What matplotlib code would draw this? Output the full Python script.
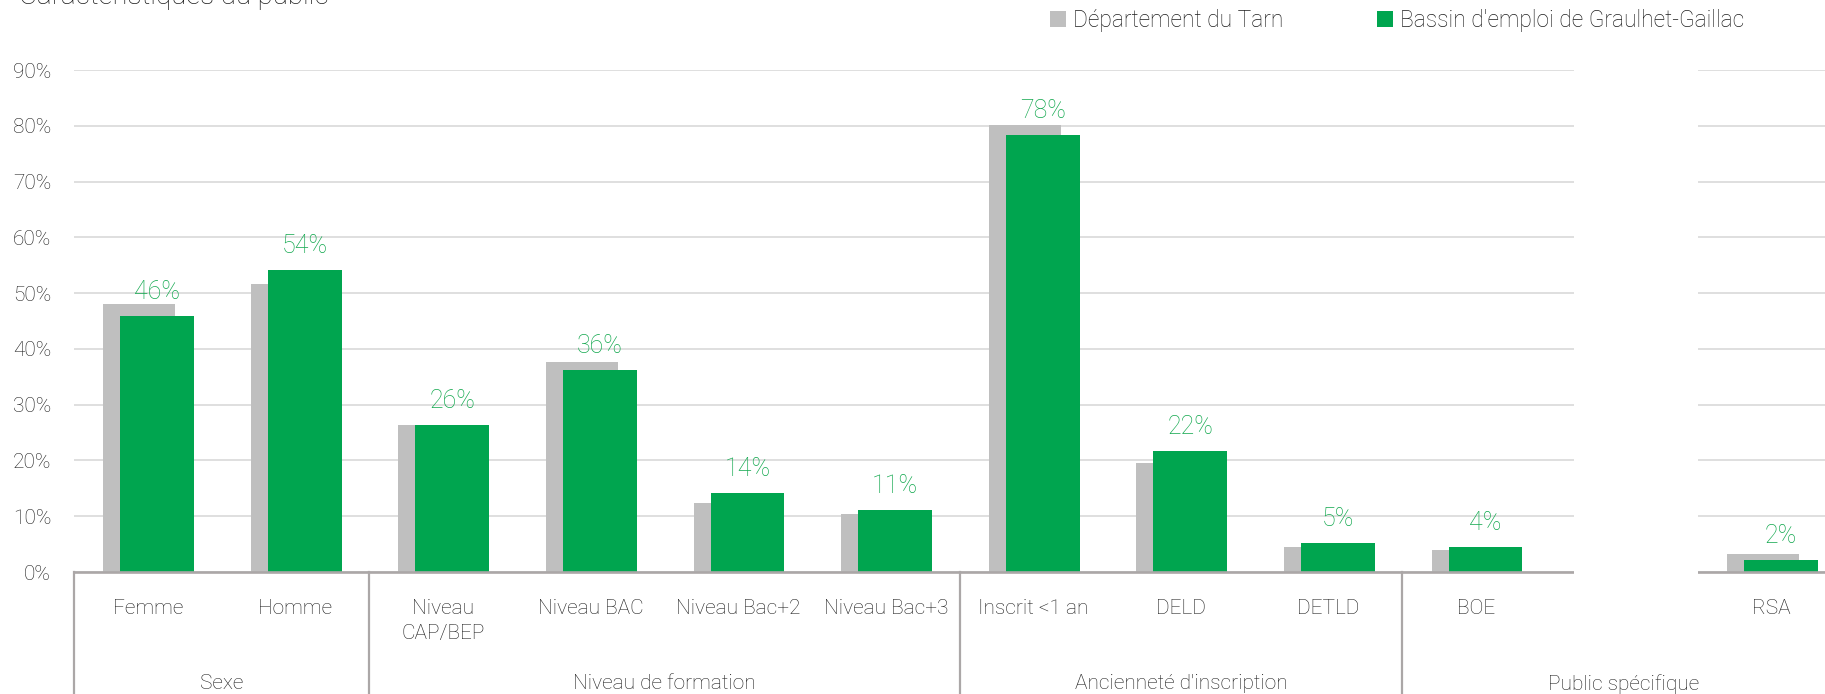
import numpy as np
import matplotlib.pyplot as plt
from matplotlib.patches import Patch, Rectangle

plt.rcParams['font.family'] = ['Roboto', 'DejaVu Sans']

categories = ["Femme", "Homme", "Niveau\nCAP/BEP", "Niveau BAC", "Niveau Bac+2", "Niveau Bac+3",
              "Inscrit <1 an", "DELD", "DETLD", "BOE", "", "RSA"]
groups = ["Sexe", "Niveau de formation", "Ancienneté d'inscription", "Public spécifique"]
group_sizes = [2, 4, 3, 3]
tarn = np.array([48.0, 51.7, 26.4, 37.7, 12.3, 10.4, 80.2, 19.6, 4.4, 3.9, np.nan, 3.2]) / 100
bassin = np.array([45.9, 54.1, 26.3, 36.2, 14.1, 11.1, 78.3, 21.7, 5.2, 4.4, np.nan, 2.1]) / 100
hidden = 10

grey = "#BFBFBF"
green = "#00A54F"
label_green = "#12A84E"
txt = "#1E1E1E"
axis_grey = "#ABA7A7"

W, H = 1825, 694
fig = plt.figure(figsize=(W / 100, H / 100), dpi=100)
cat_px = 147.6
ax = fig.add_axes([74 / W, 122 / H, 12 * cat_px / W, 502 / H])

x = np.arange(len(categories))
ax.bar(x - 0.058, tarn, width=0.487, color=grey, zorder=2)
ax.bar(x + 0.063, bassin, width=0.50, color=green, zorder=3)

for xi, v in zip(x, bassin):
    if np.isnan(v):
        continue
    ax.annotate(f"{v * 100:.0f}%", (xi + 0.063, v), xytext=(0, 12.5), textcoords="offset points",
                ha="center", va="baseline", fontsize=18, color=label_green, fontweight="light",
                annotation_clip=False)

ax.set_xlim(-0.5, len(categories) - 0.5)
ax.set_ylim(0, 0.9)
ax.set_yticks(np.arange(0, 0.91, 0.1))
ax.set_yticklabels([f"{int(round(t * 100))}%" for t in np.arange(0, 0.91, 0.1)])
ax.tick_params(axis="y", length=0, pad=16.5, labelsize=15, labelcolor=txt)
ax.set_xticks([])
for lab in ax.get_yticklabels():
    lab.set_fontweight("light")
ax.yaxis.grid(True, color="#D9D9D9", lw=1.2, zorder=0)
ax.set_axisbelow(True)
for s in ax.spines.values():
    s.set_visible(False)
ax.axhline(0, color=axis_grey, lw=1.9, zorder=4, clip_on=False)

trans = ax.get_xaxis_transform()
for xi, c in zip(x, categories):
    ax.text(xi, -0.054, c, transform=trans, ha="center", va="top", fontsize=15,
            color=txt, fontweight="light", linespacing=1.38)

edges = np.concatenate([[0], np.cumsum(group_sizes)]) - 0.5
for e in edges:
    ax.plot([e, e], [0, -0.35], transform=trans, color=axis_grey, lw=1.6, clip_on=False, zorder=4)
for g, a, b in zip(groups, edges[:-1], edges[1:]):
    ax.text((a + b) / 2, -0.203, g, transform=trans, ha="center", va="top", fontsize=15,
            color=txt, fontweight="light")

# blank slot in "Public spécifique" masked in the original
ax.add_patch(Rectangle((hidden - 0.34, -0.02), 0.84, 1.05, transform=trans, facecolor="white",
                       edgecolor="none", zorder=5, clip_on=False))

fig.text(19 / W, 1 - 4 / H, "Caractéristiques du public", fontsize=20, color=txt,
         va="baseline", ha="left", fontweight="light")

handles = [Patch(facecolor=grey, edgecolor="none"), Patch(facecolor=green, edgecolor="none")]
leg = fig.legend(handles, ["Département du Tarn", "Bassin d'emploi de Graulhet-Gaillac"],
                 loc="upper left", bbox_to_anchor=(1050 / W, 1 - 9 / H), ncol=2, frameon=False,
                 fontsize=16.4, handlelength=0.7, handleheight=0.7, handletextpad=0.32,
                 columnspacing=4.1, borderpad=0, borderaxespad=0)
for t in leg.get_texts():
    t.set_color(txt)
    t.set_fontweight("light")

fig.savefig("out.png", dpi=100)
